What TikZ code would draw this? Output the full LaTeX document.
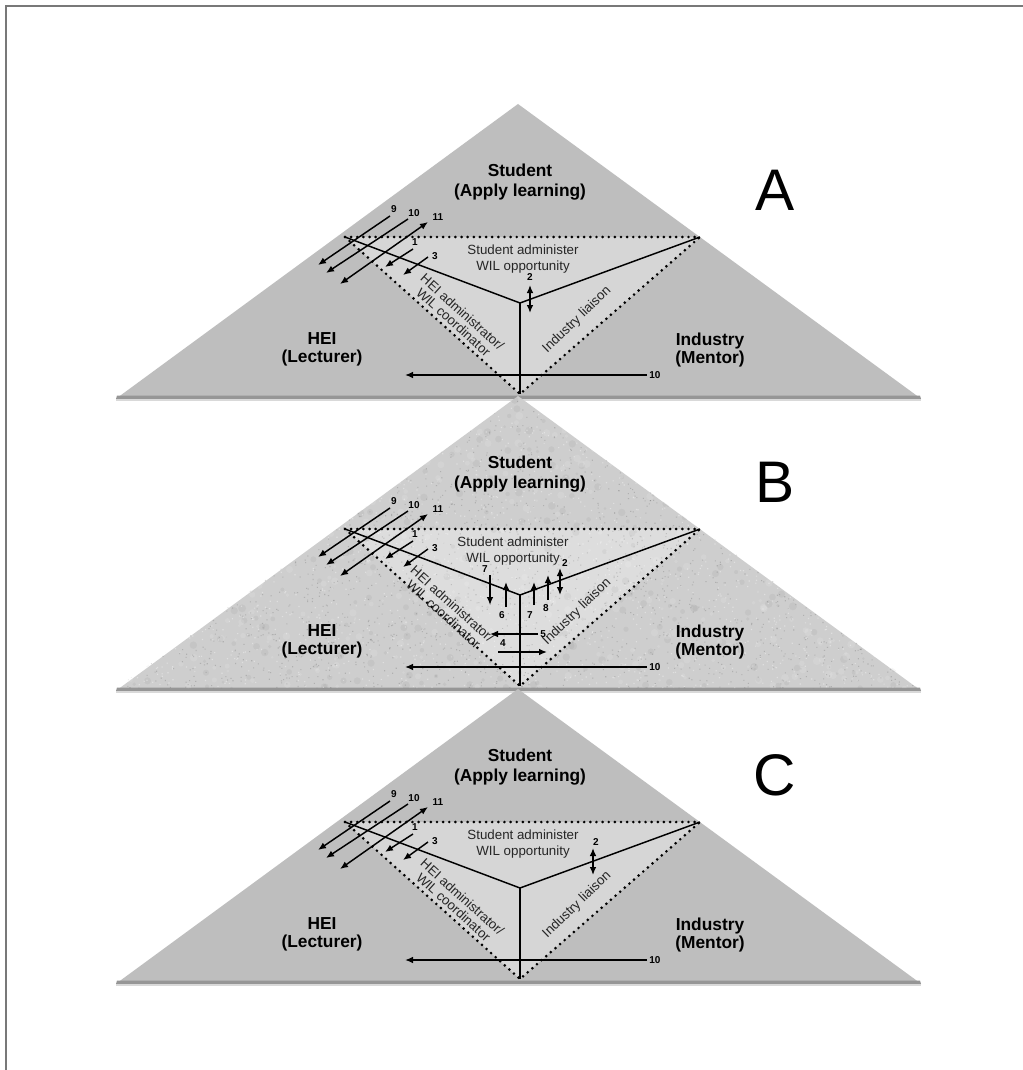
\documentclass[tikz,border=0pt]{standalone}
\usepackage{fontspec}
\setmainfont{Liberation Sans}
\usetikzlibrary{arrows.meta}

\definecolor{outergray}{RGB}{190,190,190}
\definecolor{innergray}{RGB}{214,214,214}
\definecolor{stoneout}{RGB}{206,206,206}
\definecolor{stonein}{RGB}{221,221,221}
\definecolor{framegray}{RGB}{120,120,120}
\definecolor{baseband}{RGB}{150,150,150}

\tikzset{
  arr/.style={line width=1.1pt, -{Latex[length=6pt,width=5pt]}},
  darr/.style={line width=1.1pt, {Latex[length=6pt,width=5pt]}-{Latex[length=6pt,width=5pt]}},
  yline/.style={line width=1.1pt},
  dotline/.style={line width=2.2pt, line cap=round, dash pattern=on 0pt off 4.6pt},
  num/.style={font=\fontsize{7.5}{8}\selectfont\bfseries, inner sep=0pt},
  role/.style={font=\fontsize{13}{15}\selectfont\bfseries, align=center, inner sep=0pt},
  rolelow/.style={font=\fontsize{13}{13.5}\selectfont\bfseries, align=center, inner sep=0pt},
  small/.style={font=\fontsize{10}{11.5}\selectfont, align=center, inner sep=0pt, text=black!85},
  slanted/.style={font=\fontsize{10}{10}\selectfont, align=center, inner sep=0pt, text=black!85},
  big/.style={font=\fontsize{44}{50}\selectfont, inner sep=0pt},
}

% grey triangle with the lighter inner wedge
\newcommand{\wilshape}[2]{%
  \fill[#1] (117,398) -- (518,104) -- (920,398) -- cycle;
  \fill[#2] (345,237) -- (700,237) -- (520,394) -- cycle;
  \fill[baseband] (117,395.5) -- (920,395.5) -- (921,399) -- (116,399) -- cycle;
  \fill[black!15] (116,399) rectangle (921,401);
}

% lines, arrows and labels of one panel; #1 prefix, #2 letter, #3 x shift of inner labels
\newcommand{\wilmarks}[3]{%
  \coordinate (#1L) at (345,237);
  \coordinate (#1R) at (700,237);
  \coordinate (#1V) at (520,394);
  \coordinate (#1Y) at (520,303);
  \draw[dotline] (#1L) -- (#1R);
  \draw[dotline] (#1L) -- (#1V) -- (#1R);
  \draw[yline] (#1L) -- (#1Y) -- (#1R);
  \draw[yline] (#1Y) -- (#1V);
  % role labels
  \node[role] (#1stu) at (520,182) {Student\\(Apply learning)};
  \node[rolelow] (#1hei) at (322,349) {HEI\\(Lecturer)};
  \node[rolelow] (#1ind) at (710,350) {Industry\\(Mentor)};
  \node[big] (#1let) at (775,190) {#2};
  \node[small] (#1adm) at (523+#3,259) {Student administer\\WIL opportunity};
  \node[slanted, rotate=-42] (#1coord) at (458+#3,317) {HEI administrator/\\WIL coordinator};
  \node[small, rotate=44] (#1liai) at (577,320) {Industry liaison};
  % arrows leaving the student corner
  \coordinate (#1a9) at (390,216);   \coordinate (#1b9) at (318,265);
  \coordinate (#1a10) at (408,219);  \coordinate (#1b10) at (326,273);
  \coordinate (#1a11) at (428,222);  \coordinate (#1b11) at (340,284);
  \coordinate (#1a1) at (413,249);   \coordinate (#1b1) at (385,267);
  \coordinate (#1a3) at (428,257);   \coordinate (#1b3) at (403,275);
  \draw[arr] (#1a9) -- (#1b9);
  \draw[arr] (#1a10) -- (#1b10);
  \draw[darr] (#1a11) -- (#1b11);
  \draw[arr] (#1a1) -- (#1b1);
  \draw[arr] (#1a3) -- (#1b3);
  \node[num] (#1n9) at (394,209) {9};
  \node[num] (#1n10) at (414,213) {10};
  \node[num] (#1n11) at (438,217) {11};
  \node[num] (#1n1) at (415,242) {1};
  \node[num] (#1n3) at (435,256) {3};
  % mentor to lecturer
  \coordinate (#1m) at (647,375);
  \coordinate (#1l) at (405,375);
  \draw[arr] (#1m) -- (#1l);
  \node[num, anchor=west] (#1n10b) at (649,375) {10};
}

\begin{document}
\begin{tikzpicture}[x=0.75pt, y=-0.75pt]
\useasboundingbox (0,0) rectangle (1023,1070);
\fill[white] (0,0) rectangle (1023,1070);
\draw[framegray, line width=1.5pt] (6,1070) -- (6,6) -- (1023,6);

% ---------- panel A ----------
\begin{scope}
  \wilshape{outergray}{innergray}
  \wilmarks{A}{A}{0}
  \coordinate (At2) at (530,285);
  \coordinate (Ab2) at (530,313);
  \draw[darr] (At2) -- (Ab2);
  \node[num] (An2) at (530,277) {2};
\end{scope}

% ---------- panel B (stone texture) ----------
\begin{scope}[shift={(0,292)}]
  \wilshape{stoneout}{stonein}
  \begin{scope}
    \clip (117,396) -- (518,104) -- (920,396) -- cycle;
    \pgfmathsetseed{42}
    \foreach \k in {1,...,500} {
      \pgfmathsetmacro{\rr}{1+2*rnd}
      \fill[black, opacity=0.04] ({117+803*rnd},{104+294*rnd}) circle (\rr pt);
    }
    \foreach \k in {1,...,500} {
      \pgfmathsetmacro{\rr}{1+2*rnd}
      \fill[white, opacity=0.12] ({117+803*rnd},{104+294*rnd}) circle (\rr pt);
    }
    \foreach \c in {1,...,12} {
      \fill[black, opacity=0.14]
        \foreach \k in {1,...,250} { ({117+803*rnd},{104+294*rnd}) rectangle ++(0.8pt,0.8pt) };
    }
    \foreach \c in {1,...,8} {
      \fill[white, opacity=0.35]
        \foreach \k in {1,...,250} { ({117+803*rnd},{104+294*rnd}) rectangle ++(0.9pt,0.9pt) };
    }
  \end{scope}
  \wilmarks{B}{B}{-10}
  % flows around the junction
  \coordinate (Bs7) at (490,283);  \coordinate (Be7) at (490,313);
  \coordinate (Bs6) at (506,315);  \coordinate (Be6) at (506,290);
  \coordinate (Bs7b) at (534,313); \coordinate (Be7b) at (534,290);
  \coordinate (Bs8) at (548,308);  \coordinate (Be8) at (548,283);
  \coordinate (Bs2) at (560,276);  \coordinate (Be2) at (560,303);
  \coordinate (Bs5) at (538,342);  \coordinate (Be5) at (490,342);
  \coordinate (Bs4) at (498,360);  \coordinate (Be4) at (547,360);
  \draw[arr] (Bs7) -- (Be7);
  \draw[arr] (Bs6) -- (Be6);
  \draw[arr] (Bs7b) -- (Be7b);
  \draw[arr] (Bs8) -- (Be8);
  \draw[darr] (Bs2) -- (Be2);
  \draw[arr] (Bs5) -- (Be5);
  \draw[arr] (Bs4) -- (Be4);
  \node[num] (Bn7) at (485,277) {7};
  \node[num] (Bn6) at (502,323) {6};
  \node[num] (Bn7b) at (530,323) {7};
  \node[num] (Bn8) at (546,316) {8};
  \node[num] (Bn2) at (565,271) {2};
  \node[num, anchor=west] (Bn5) at (540,342) {5};
  \node[num] (Bn4) at (503,351) {4};
\end{scope}

% ---------- panel C ----------
\begin{scope}[shift={(0,585)}]
  \wilshape{outergray}{innergray}
  \wilmarks{C}{C}{0}
  \coordinate (Ct2) at (593,263);
  \coordinate (Cb2) at (593,290);
  \draw[darr] (Ct2) -- (Cb2);
  \node[num] (Cn2) at (596,257) {2};
\end{scope}
\end{tikzpicture}
\end{document}
